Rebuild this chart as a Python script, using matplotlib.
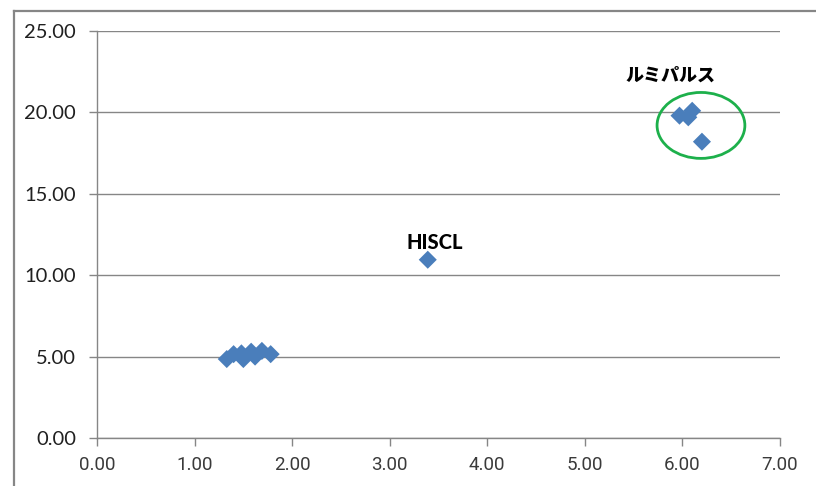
import matplotlib
matplotlib.use("Agg")
import matplotlib.pyplot as plt
from matplotlib.patches import Ellipse
from matplotlib.lines import Line2D

# data
cluster_x = [1.33, 1.40, 1.48, 1.50, 1.58, 1.62, 1.69, 1.78]
cluster_y = [4.85, 5.15, 5.20, 4.85, 5.30, 5.00, 5.35, 5.15]
hiscl_x = [3.39]
hiscl_y = [10.95]
lumi_x = [5.97, 6.06, 6.10, 6.20]
lumi_y = [19.80, 19.70, 20.10, 18.20]

xs = cluster_x + hiscl_x + lumi_x
ys = cluster_y + hiscl_y + lumi_y

x_ticks = [0, 1, 2, 3, 4, 5, 6, 7]
y_ticks = [0, 5, 10, 15, 20, 25]

label_hiscl = "HISCL"
label_lumi = "ルミパルス"

GRAY = "#868686"
BLUE = "#4A7EBB"

fig = plt.figure(figsize=(8.16, 4.86), dpi=100)
ax = fig.add_axes([97/816, 1-438/486, (780-97)/816, (438-31)/486])

ax.scatter(xs, ys, marker="D", s=9.2**2, color=BLUE, edgecolors="none", zorder=3)

ax.set_xlim(0, 7)
ax.set_ylim(0, 25)
ax.set_xticks(x_ticks)
ax.set_yticks(y_ticks)
ax.set_xticklabels([f"{v:.2f}" for v in x_ticks],
                   family=["Roboto", "DejaVu Sans"],
                   fontsize=13.5, fontweight="normal", color="#3a3a3a")
ax.set_yticklabels([f"{v:.2f}" for v in y_ticks],
                   family=["Lato", "DejaVu Sans"], fontsize=14.5, color="#202020")

ax.grid(axis="y", color=GRAY, linewidth=1.0)
ax.set_axisbelow(True)
for s in ["top", "right"]:
    ax.spines[s].set_visible(False)
for s in ["left", "bottom"]:
    ax.spines[s].set_color(GRAY)
    ax.spines[s].set_linewidth(1.0)
ax.tick_params(axis="both", color=GRAY, length=6, width=1.0)
ax.tick_params(axis="y", pad=9)
ax.tick_params(axis="x", pad=7)

ax.text(3.46, 12.0, label_hiscl, ha="center", va="center", fontsize=14.5,
        fontweight="black", family=["Lato", "DejaVu Sans"])
ax.text(5.88, 22.3, label_lumi, ha="center", va="center", fontsize=13,
        fontweight="black", family=["Noto Sans CJK JP", "DejaVu Sans"])

ax.add_patch(Ellipse((6.19, 19.2), 0.90, 4.05, fill=False, edgecolor="#1DB04B",
                     linewidth=2.0, zorder=4))

# chart-area border (partially visible)
fig.add_artist(Line2D([14/816, 14/816], [0, 1-11/486], transform=fig.transFigure,
                      color=GRAY, linewidth=1.6))
fig.add_artist(Line2D([14/816, 1], [1-11/486, 1-11/486], transform=fig.transFigure,
                      color=GRAY, linewidth=1.6))

fig.savefig("out.png", dpi=100, facecolor="white")
